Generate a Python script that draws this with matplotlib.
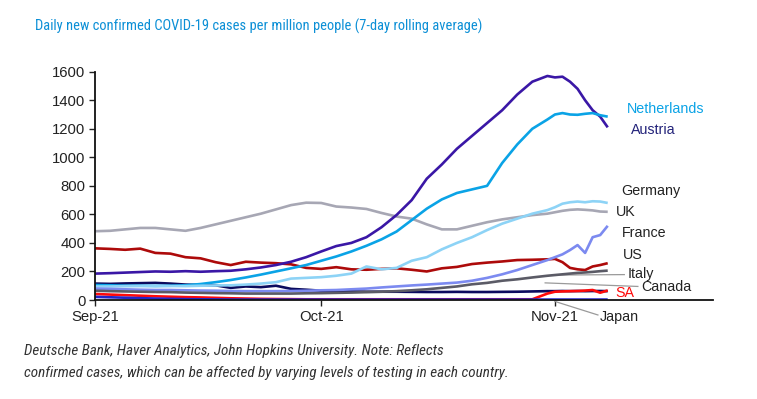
import matplotlib
matplotlib.use("Agg")
import matplotlib.pyplot as plt
from matplotlib import font_manager

# ---------------- data ----------------
days = list(range(0, 60, 2)) + list(range(60, 69))  # days since 1 Sep 2021

austria = [185, 188, 192, 196, 200, 198, 202, 198, 202, 205, 215, 228, 245, 268, 300,
           340, 378, 400, 440, 510, 596, 700, 850, 950, 1060, 1150, 1240, 1330, 1440, 1530,
           1570, 1560, 1565, 1530, 1480, 1400, 1330, 1285, 1210]
netherlands = [105, 103, 100, 100, 98, 100, 103, 112, 125, 140, 158, 178, 200, 222, 245,
               275, 305, 340, 380, 425, 480, 560, 640, 705, 750, 775, 800, 960, 1090, 1200,
               1265, 1300, 1310, 1300, 1298, 1305, 1310, 1295, 1285]
germany = [95, 95, 97, 98, 100, 98, 97, 100, 102, 103, 108, 115, 125, 150, 155,
           160, 170, 185, 235, 215, 225, 275, 300, 355, 400, 440, 490, 535, 570, 605,
           630, 650, 675, 685, 690, 685, 692, 690, 680]
uk = [482, 485, 495, 505, 505, 495, 485, 505, 530, 555, 580, 605, 635, 665, 682,
      680, 655, 648, 638, 610, 585, 570, 530, 495, 495, 520, 545, 565, 580, 595,
      605, 615, 625, 632, 635, 632, 628, 620, 618]
france = [80, 78, 75, 72, 70, 70, 68, 66, 65, 63, 62, 62, 62, 63, 65,
          68, 70, 75, 80, 88, 95, 102, 108, 115, 122, 135, 155, 180, 210, 245,
          280, 300, 320, 350, 385, 330, 440, 455, 520]
us = [362, 358, 352, 360, 330, 325, 300, 292, 265, 245, 268, 262, 258, 250, 225,
      218, 230, 215, 212, 218, 222, 212, 200, 222, 232, 252, 262, 270, 280, 282,
      285, 288, 265, 225, 215, 210, 235, 245, 258]
italy = [65, 62, 60, 58, 56, 55, 52, 50, 48, 47, 45, 45, 45, 45, 47,
         48, 50, 52, 55, 58, 62, 68, 75, 85, 95, 110, 120, 135, 145, 158,
         170, 175, 180, 185, 190, 193, 197, 202, 206]
canada = [115, 113, 116, 118, 120, 115, 108, 105, 103, 85, 95, 90, 100, 78, 72,
          65, 60, 60, 58, 58, 58, 57, 56, 56, 57, 56, 56, 57, 58, 60,
          62, 62, 63, 62, 63, 62, 63, 63, 62]
sa = [42, 38, 34, 30, 26, 23, 20, 18, 15, 12, 10, 8, 7, 6, 5,
      5, 5, 5, 5, 5, 5, 5, 5, 5, 5, 5, 5, 5, 5, 5,
      45, 58, 60, 62, 63, 66, 70, 51, 67]
japan = [22, 19, 16, 13, 10, 8, 6, 5, 4, 3, 3, 3, 3, 3, 3,
         3, 3, 3, 3, 3, 3, 3, 3, 3, 3, 3, 3, 3, 3, 3,
         3, 3, 3, 3, 3, 3, 3, 3, 3]

series_names = ["UK", "US", "Austria", "Canada", "Netherlands", "Germany",
                "France", "Italy", "SA", "Japan"]
series_values = [uk, us, austria, canada, netherlands, germany, france, italy, sa, japan]
series_colors = ["#a7a7b4", "#ad0a0a", "#3a17a6", "#0b0b5e", "#0aa3e6", "#8dd3f6",
                 "#7c8af0", "#5b5b66", "#ff0a0a", "#2424c8"]

xtick_days = [0, 30, 61]
xtick_labels = ["Sep-21", "Oct-21", "Nov-21"]
yticks = [0, 200, 400, 600, 800, 1000, 1200, 1400, 1600]

title = "Daily new confirmed COVID-19 cases per million people (7-day rolling average)"
foot1 = "Deutsche Bank, Haver Analytics, John Hopkins University. Note: Reflects"
foot2 = "confirmed cases, which can be affected by varying levels of testing in each country."

# label positions (day, value) and colours
labels = {
    "Netherlands": (70.6, 1339, "#0aa3e6"),
    "Austria": (71.1, 1192, "#23237a"),
    "Germany": (69.8, 764, "#222222"),
    "UK": (69.1, 617, "#222222"),
    "France": (69.9, 470, "#222222"),
    "US": (70.0, 315, "#222222"),
    "Italy": (70.6, 180, "#222222"),
    "Canada": (72.4, 93, "#222222"),
    "SA": (69.0, 49, "#ff0a0a"),
    "Japan": (67.0, -119, "#222222"),
}

# ---------------- fonts ----------------
avail = {f.name for f in font_manager.fontManager.ttflist}
narrow = "Liberation Sans"
for cand in ["Liberation Sans Narrow", "Arial Narrow", "Roboto Condensed",
             "Nimbus Sans Narrow", "Open Sans Condensed"]:
    if cand in avail:
        narrow = cand
        break
plt.rcParams["font.family"] = ["Liberation Sans", "DejaVu Sans"]

# ---------------- figure ----------------
W, H = 757, 399
fig = plt.figure(figsize=(W / 100, H / 100), dpi=100)
left, right, bottom, top = 95, 713, 300, 71.7
ax = fig.add_axes([left / W, 1 - bottom / H, (right - left) / W, (bottom - top) / H])

for name, vals, col in zip(series_names, series_values, series_colors):
    ax.plot(days, vals, color=col, lw=1.9, solid_capstyle="butt", zorder=3)

ax.set_xlim(0, (right - left) / 7.54)
ax.set_ylim(0, 1600)
ax.set_xticks(xtick_days)
ax.set_xticklabels(xtick_labels)
ax.set_yticks(yticks)
ax.tick_params(axis="both", labelsize=10.7, colors="#222222", length=4, width=1,
               direction="out")
ax.tick_params(axis="y", pad=3)
ax.tick_params(axis="x", pad=3)
for s in ["top", "right"]:
    ax.spines[s].set_visible(False)
for s in ["left", "bottom"]:
    ax.spines[s].set_color("#111111")
    ax.spines[s].set_linewidth(1.3)
    ax.spines[s].set_zorder(5)

for name, (xd, yv, col) in labels.items():
    ax.text(xd, yv, name, color=col, fontsize=10.3, ha="left", va="center",
            clip_on=False, zorder=6)

# leader lines
lead = dict(color="#9a9a9a", lw=0.9, clip_on=False, zorder=2)
ax.plot([61.2, 70.2], [175, 178], **lead)       # Italy
ax.plot([59.7, 72.0], [120, 95], **lead)        # Canada
ax.plot([61.0, 66.7], [-10, -105], **lead)      # Japan

# ---------------- title & footnote (fit to reference widths) ----------------
renderer = fig.canvas.get_renderer()

t = fig.text(35 / W, 1 - 26 / H, title, fontsize=12, ha="left", va="center",
             color="#0b8fd6", family=[narrow, "DejaVu Sans"])
t.set_fontsize(12 * 448 / t.get_window_extent(renderer=renderer).width)

f1 = fig.text(24 / W, 1 - 351 / H, foot1, fontsize=11, ha="left", va="center",
              color="#333333", style="italic", family=[narrow, "DejaVu Sans"])
f2 = fig.text(24 / W, 1 - 373 / H, foot2, fontsize=11, ha="left", va="center",
              color="#333333", style="italic", family=[narrow, "DejaVu Sans"])
fs = 11 * 482 / f2.get_window_extent(renderer=renderer).width
f1.set_fontsize(fs)
f2.set_fontsize(fs)

fig.savefig("out.png", dpi=100)
